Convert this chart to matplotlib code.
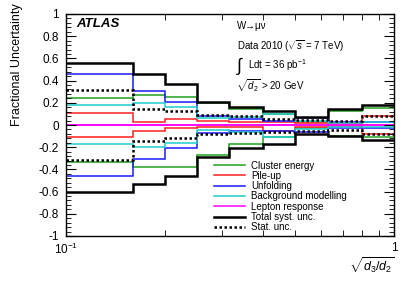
import matplotlib
matplotlib.use("Agg")
import matplotlib.pyplot as plt
from matplotlib.lines import Line2D
from matplotlib.ticker import FixedLocator, NullFormatter

plt.rcParams["font.family"] = ["Liberation Sans", "DejaVu Sans"]
plt.rcParams["mathtext.fontset"] = "custom"
plt.rcParams["mathtext.rm"] = "Liberation Sans"
plt.rcParams["mathtext.it"] = "Liberation Sans:italic"
plt.rcParams["mathtext.bf"] = "Liberation Sans:bold"

# bin edges in sqrt(d3/d2)
edges = [0.1, 0.16, 0.2, 0.25, 0.315, 0.4, 0.5, 0.63, 0.8, 1.0]

# upper / lower fractional uncertainties per bin
cluster_up = [0.24, 0.27, 0.255, 0.195, 0.145, 0.10, 0.03, 0.13, 0.155]
cluster_lo = [-0.33, -0.38, -0.375, -0.27, -0.17, -0.11, -0.03, -0.095, -0.11]
pileup_up = [0.11, 0.03, 0.05, 0.04, 0.03, 0.03, 0.02, 0.005, 0.085]
pileup_lo = [-0.11, -0.05, -0.03, -0.02, -0.02, -0.05, -0.02, -0.005, -0.08]
unfold_up = [0.455, 0.31, 0.205, 0.085, 0.05, 0.04, 0.065, 0.03, 0.03]
unfold_lo = [-0.46, -0.31, -0.205, -0.07, -0.05, -0.05, -0.065, -0.03, -0.03]
bkg_up = [0.18, 0.2, 0.165, 0.065, 0.07, 0.10, 0.04, 0.02, 0.025]
bkg_lo = [-0.175, -0.195, -0.16, -0.045, -0.06, -0.11, -0.04, -0.015, -0.015]
lepton_up = [0.003, 0.003, 0.003, 0.003, 0.003, 0.003, 0.003, 0.003, 0.003]
lepton_lo = [-0.003, -0.003, -0.003, -0.003, -0.003, -0.003, -0.003, -0.003, -0.003]
total_up = [0.56, 0.455, 0.365, 0.21, 0.165, 0.13, 0.075, 0.14, 0.18]
total_lo = [-0.60, -0.53, -0.46, -0.285, -0.205, -0.17, -0.08, -0.10, -0.135]
stat_up = [0.315, 0.145, 0.125, 0.09, 0.085, 0.055, 0.045, 0.035, 0.085]
stat_lo = [-0.315, -0.145, -0.12, -0.08, -0.075, -0.065, -0.05, -0.045, -0.08]

labels = ["Cluster energy", "Pile-up", "Unfolding", "Background modelling",
          "Lepton response", "Total syst. unc.", "Stat. unc."]

W, H = 415, 281
fig = plt.figure(figsize=(W / 100, H / 100), dpi=100)
ax = fig.add_axes([66 / W, 1 - 236 / H, (394 - 66) / W, (236 - 14) / H])

green, red, blue, cyan, magenta = "#1fa01f", "#ff2020", "#1a1aff", "#22cccc", "#ff00ff"
series = [
    (cluster_up, cluster_lo, dict(color=green, lw=1.1)),
    (pileup_up, pileup_lo, dict(color=red, lw=1.1)),
    (unfold_up, unfold_lo, dict(color=blue, lw=1.1)),
    (bkg_up, bkg_lo, dict(color=cyan, lw=1.1)),
    (lepton_up, lepton_lo, dict(color=magenta, lw=1.1)),
    (total_up, total_lo, dict(color="black", lw=1.8)),
    (stat_up, stat_lo, dict(color="black", lw=1.8, ls=(0, (1, 1)))),
]
handles = []
for up, lo, style in series:
    ax.stairs(up, edges, baseline=None, **style)
    ax.stairs(lo, edges, baseline=None, **style)
    handles.append(Line2D([], [], **style))

ax.set_xscale("log")
ax.set_xlim(0.1, 1.0)
ax.set_ylim(-1, 1)
ax.xaxis.set_major_locator(FixedLocator([0.1, 1.0]))
ax.xaxis.set_minor_locator(FixedLocator([0.2, 0.3, 0.4, 0.5, 0.6, 0.7, 0.8, 0.9]))
ax.xaxis.set_minor_formatter(NullFormatter())
ax.set_xticklabels(["$10^{-1}$", "1"])
ax.yaxis.set_major_locator(FixedLocator([-1, -0.8, -0.6, -0.4, -0.2, 0, 0.2, 0.4, 0.6, 0.8, 1]))
ax.set_yticklabels(["-1", "-0.8", "-0.6", "-0.4", "-0.2", "0", "0.2", "0.4", "0.6", "0.8", "1"])
ax.yaxis.set_minor_locator(FixedLocator([i * 0.04 - 1 for i in range(51)]))
ax.tick_params(which="both", direction="in", top=True, right=True, labelsize=8.5)
ax.tick_params(axis="y", which="major", length=7, pad=5)
ax.tick_params(axis="y", which="minor", length=3.5)
ax.tick_params(axis="x", which="major", length=7, pad=4)
ax.tick_params(axis="x", which="minor", length=4)
for s in ax.spines.values():
    s.set_linewidth(1.0)

fig.text(17 / W, 1 - 3 / H, "Fractional Uncertainty", rotation=90,
         ha="center", va="top", fontsize=9)
fig.text(394 / W, 1 - 272 / H, r"$\sqrt{d_3/d_2}$", ha="right", va="baseline", fontsize=9)

fig.text(76 / W, 1 - 24 / H, "ATLAS", fontsize=9.5, fontweight="bold",
         fontstyle="italic", va="center")
fig.text(237 / W, 1 - 26 / H, "W→μν", fontsize=7, va="center")
fig.text(237 / W, 1 - 46 / H, r"Data 2010 ($\sqrt{s}$ = 7 TeV)", fontsize=7, va="center")
fig.text(236 / W, 1 - 66 / H, r"$\int$", fontsize=13, va="center")
fig.text(248 / W, 1 - 65 / H, r"Ldt = 36 pb$^{-1}$", fontsize=7, va="center")
fig.text(236 / W, 1 - 86 / H, r"$\sqrt{d_2}$ > 20 GeV", fontsize=7, va="center")

ax.legend(handles, labels, loc="upper left", bbox_to_anchor=(0.451, 0.34),
          frameon=False, fontsize=7, handlelength=3.2, handletextpad=0.6,
          labelspacing=0.03, borderpad=0, borderaxespad=0)

fig.savefig("out.png", dpi=100)
